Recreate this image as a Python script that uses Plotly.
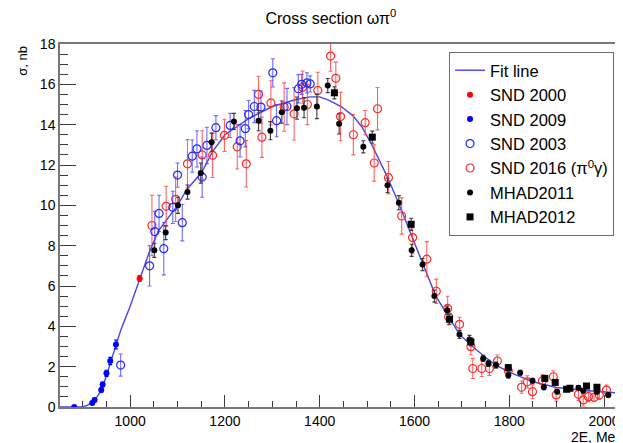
import plotly.graph_objects as go

# ---------------- data ----------------
fit_E = [852, 880, 900, 910, 920, 930, 940, 950, 960, 970, 980, 1000, 1020, 1040, 1060, 1080,
         1100, 1120, 1150, 1175, 1200, 1250, 1300, 1350, 1380, 1400, 1420, 1445, 1470, 1490,
         1510, 1540, 1565, 1595, 1620, 1645, 1670, 1695, 1720, 1745, 1770, 1800, 1850, 1900,
         1950, 2000, 2040]
fit_sigma = [0, 0, 0.02, 0.08, 0.25, 0.5, 0.85, 1.55, 2.3, 3.1, 3.8, 5.0, 6.3, 7.65, 8.75, 9.4,
             10.0, 10.8, 11.6, 12.7, 13.5, 14.3, 14.9, 15.25, 15.38, 15.38, 15.2, 14.9, 14.45, 13.85,
             13.0, 11.55, 10.2, 8.43, 7.0, 5.5, 4.55, 3.6, 3.05, 2.55, 2.1, 1.73, 1.25, 0.97,
             0.84, 0.76, 0.68]

snd2000_E = [1020]
snd2000_s = [6.37]
snd2000_e = [0.15]

snd2009_E = [882, 920, 925, 939, 942, 950, 958, 970]
snd2009_s = [0.0, 0.2, 0.35, 0.84, 1.12, 1.67, 2.28, 3.1]
snd2009_e = [0.03, 0.06, 0.08, 0.1, 0.12, 0.15, 0.18, 0.22]

snd2003_E = [980, 1041, 1052, 1061, 1071, 1090, 1100, 1110, 1131, 1141, 1152, 1162, 1181,
             1211, 1232, 1243, 1250, 1262, 1276, 1301, 1309, 1331, 1355, 1362, 1373, 1380]
snd2003_s = [2.08, 7.0, 8.7, 9.6, 7.85, 9.9, 11.5, 9.14, 12.44, 12.8, 11.4, 12.97, 13.85,
             13.96, 13.2, 13.8, 14.5, 14.9, 14.87, 16.57, 14.2, 14.9, 15.78, 16.0, 16.07, 16.02]
snd2003_e = [0.55, 1.0, 1.0, 0.9, 1.3, 0.8, 0.6, 0.9, 0.8, 0.9, 1.0, 0.9, 0.6,
             0.6, 0.8, 0.9, 0.7, 0.8, 0.8, 0.7, 0.8, 0.9, 0.7, 0.5, 0.5, 0.4]

snd2016_E = [1046, 1076, 1096, 1121, 1152, 1174, 1199, 1226, 1245, 1271, 1278, 1297, 1325,
             1346, 1364, 1374, 1396, 1423, 1434, 1444, 1471, 1496, 1515, 1522, 1545, 1573,
             1596, 1626, 1646, 1670, 1672, 1695, 1719, 1723, 1742, 1758, 1775, 1798, 1826,
             1838, 1849, 1870, 1893, 1899, 1946, 1956, 1967, 1979, 1990, 2005]
snd2016_s = [9.0, 9.95, 10.3, 12.06, 12.5, 12.48, 13.47, 12.9, 12.06, 15.5, 13.38, 15.08, 14.87,
             14.54, 15.86, 15.0, 15.7, 17.4, 16.3, 14.4, 13.5, 14.1, 12.1, 14.79, 11.37, 9.47,
             8.4, 7.33, 5.74, 4.89, 4.47, 4.1, 2.99, 1.91, 1.91, 1.91, 2.28, 1.8, 0.98,
             1.25, 0.76, 1.3, 1.5, 0.6, 0.63, 0.35, 0.51, 0.48, 0.59, 0.84]
snd2016_e = [1.5, 1.0, 1.1, 1.2, 1.2, 1.1, 0.8, 1.1, 1.15, 0.9, 1.0, 1.1, 1.2,
             1.3, 0.8, 1.0, 0.9, 0.75, 0.8, 1.2, 1.0, 0.6, 0.9, 1.05, 0.8, 0.9,
             0.8, 0.87, 0.6, 0.6, 0.4, 0.35, 0.4, 0.5, 0.4, 0.35, 0.3, 0.3, 0.3,
             0.3, 0.35, 0.3, 0.3, 0.3, 0.3, 0.3, 0.25, 0.2, 0.2, 0.25]

mhad2011_E = [1051, 1075, 1101, 1121, 1149, 1172, 1219, 1271, 1296, 1320, 1352, 1367, 1394,
              1417, 1441, 1492, 1543, 1567, 1594, 1617, 1642, 1669, 1695, 1716, 1745, 1756,
              1772, 1798, 1823, 1849, 1873, 1901, 1946, 1956, 1985, 2009]
mhad2011_s = [7.77, 8.65, 10.0, 10.66, 11.6, 13.13, 14.16, 14.2, 13.7, 14.62, 14.82, 14.84, 14.9,
              15.94, 14.04, 12.9, 10.99, 10.13, 7.77, 7.06, 5.5, 4.8, 3.6, 3.35, 2.41, 2.16,
              2.08, 1.58, 1.7, 1.3, 0.98, 0.76, 0.96, 0.81, 0.76, 0.59]
mhad2011_e = [0.35, 0.35, 0.4, 0.35, 0.5, 0.45, 0.4, 0.5, 0.45, 0.55, 0.55, 0.5, 0.6,
              0.35, 0.5, 0.3, 0.35, 0.35, 0.3, 0.3, 0.3, 0.2, 0.2, 0.2, 0.15, 0.15,
              0.15, 0.15, 0.12, 0.12, 0.12, 0.1, 0.1, 0.1, 0.1, 0.1]

mhad2012_E = [1431, 1511, 1593, 1674, 1719, 1798, 1875, 1897, 1921, 1928, 1963, 1985]
mhad2012_s = [15.58, 13.38, 9.06, 4.35, 3.23, 1.95, 1.42, 1.22, 0.88, 0.93, 1.04, 0.98]
mhad2012_e = [0.3, 0.3, 0.3, 0.25, 0.2, 0.15, 0.12, 0.12, 0.1, 0.1, 0.1, 0.1]

# ---------------- figure ----------------
FONT = "Liberation Sans, Arial, Helvetica, sans-serif"
fig = go.Figure()

fig.add_trace(go.Scatter(x=fit_E, y=fit_sigma, mode="lines", name="Fit line",
                         line=dict(color="rgb(70,70,235)", width=1.4), legendrank=1))


def pts(E, s, e, name, color, symbol, size, ecolor, rank, lw=1.2):
    fig.add_trace(go.Scatter(
        x=E, y=s, mode="markers", name=name, legendrank=rank,
        marker=dict(color=color, symbol=symbol, size=size,
                    line=dict(color=color, width=lw)),
        error_y=dict(type="data", array=e, visible=True, color=ecolor,
                     thickness=1.1, width=2),
    ))


pts(snd2016_E, snd2016_s, snd2016_e, "SND 2016 (π<sup>0</sup>γ)", "rgb(255,40,40)",
    "circle-open", 8, "rgba(255,60,60,0.8)", 5)
pts(snd2003_E, snd2003_s, snd2003_e, "SND 2003", "rgb(40,40,255)",
    "circle-open", 8, "rgba(60,60,255,0.75)", 4)
pts(mhad2011_E, mhad2011_s, mhad2011_e, "MHAD2011", "black",
    "circle", 6, "rgb(60,60,60)", 6, lw=0)
pts(mhad2012_E, mhad2012_s, mhad2012_e, "MHAD2012", "black",
    "square", 7, "rgb(60,60,60)", 7, lw=0)
pts(snd2009_E, snd2009_s, snd2009_e, "SND 2009", "rgb(0,0,255)",
    "circle", 6, "rgb(0,0,255)", 3, lw=0)
pts(snd2000_E, snd2000_s, snd2000_e, "SND 2000", "rgb(255,0,0)",
    "circle", 6, "rgb(255,0,0)", 2, lw=0)

fig.update_layout(
    width=615, height=435,
    margin=dict(l=52, r=0, t=36, b=36),
    paper_bgcolor="white", plot_bgcolor="white",
    font=dict(family=FONT, color="black", size=14),
    title=dict(text="Cross section ωπ<sup>0</sup>", x=0.525, xanchor="center",
               y=0.977, yanchor="middle", font=dict(size=16, family=FONT)),
    showlegend=True,
    legend=dict(x=0.691, y=0.978, xanchor="left", yanchor="top",
                bgcolor="white", bordercolor="rgb(110,110,110)", borderwidth=1,
                font=dict(size=16.5, family=FONT), itemwidth=30, tracegroupgap=0),
    xaxis=dict(range=[852, 2040], showgrid=False, zeroline=False,
               showline=True, linecolor="rgb(120,120,120)", linewidth=1.5, mirror=True,
               ticks="inside", ticklen=12, tickcolor="rgb(60,60,60)", tickwidth=1,
               tick0=1000, dtick=200, tickfont=dict(size=14), ticklabelstandoff=0,
               minor=dict(ticks="inside", ticklen=6, dtick=50, tickcolor="rgb(60,60,60)")),
    yaxis=dict(range=[0, 18], showgrid=False, zeroline=False,
               showline=True, linecolor="rgb(120,120,120)", linewidth=1.5, mirror=False,
               ticks="inside", ticklen=16, tickcolor="rgb(60,60,60)", tickwidth=1,
               tick0=0, dtick=2, tickfont=dict(size=14),
               minor=dict(ticks="inside", ticklen=8, dtick=0.5, tickcolor="rgb(60,60,60)")),
    annotations=[
        dict(text="σ, nb", xref="paper", yref="paper", x=-0.068, y=1.0,
             xanchor="center", yanchor="top", textangle=-90, showarrow=False,
             font=dict(size=13, family=FONT)),
        dict(text="2E, MeV", xref="paper", yref="paper", x=1.007, y=-0.055,
             xanchor="right", yanchor="top", showarrow=False,
             font=dict(size=14, family=FONT)),
    ],
)

fig.write_html("out.html")
